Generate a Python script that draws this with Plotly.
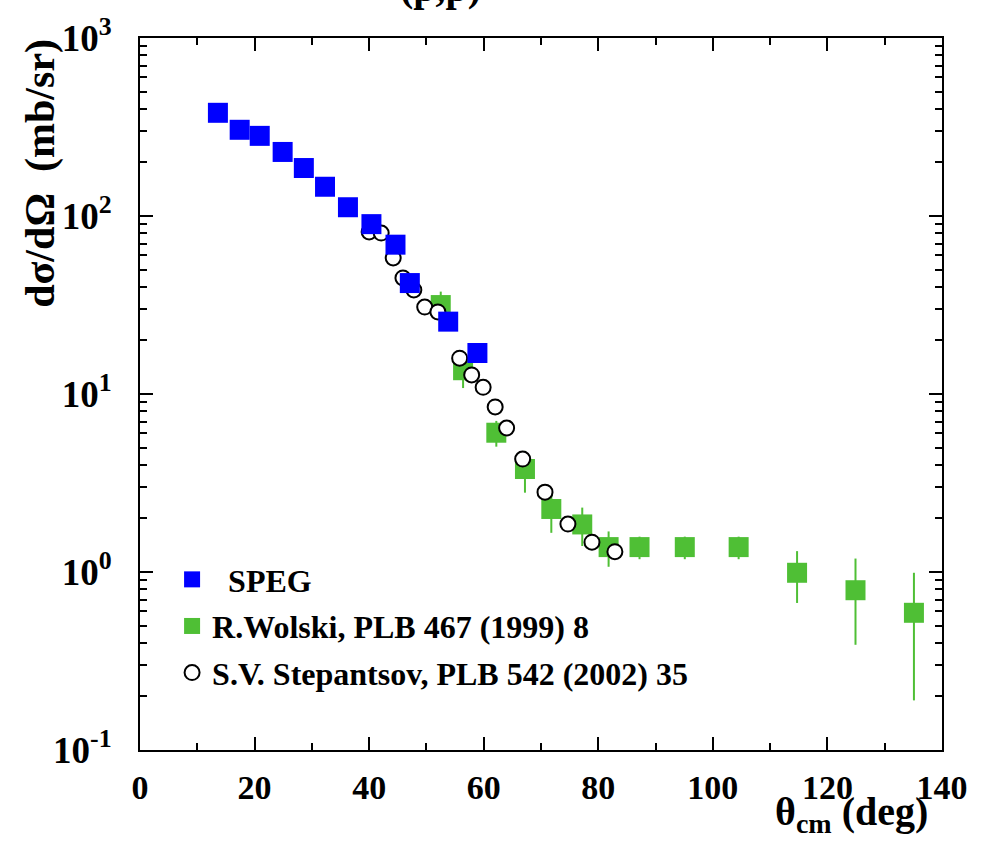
import plotly.graph_objects as go

# SPEG data (blue)
speg_x = [13.6, 17.4, 20.9, 24.9, 28.6, 32.3, 36.3, 40.4, 44.6, 47.1, 53.8, 58.9]
speg_y = [380, 305, 282, 229, 186, 146, 112, 90, 69, 42, 25.5, 17.0]

# R.Wolski, PLB 467 (1999) 8 (green)
wol_x = [52.5, 56.4, 62.2, 67.2, 71.8, 77.2, 81.8, 87.2, 95.1, 104.5, 114.7, 124.9, 135.1]
wol_y = [31.6, 13.6, 6.06, 3.79, 2.26, 1.85, 1.38, 1.38, 1.38, 1.38, 0.99, 0.79, 0.59]
wol_err = [6.0, 2.8, 1.0, 1.0, 0.6, 0.45, 0.31, 0.2, 0.2, 0.2, 0.32, 0.40, 0.40]

# S.V. Stepantsov, PLB 542 (2002) 35 (open circles)
ste_x = [40.0, 42.1, 44.2, 45.9, 47.8, 49.7, 52.0, 55.8, 57.9, 59.9, 62.0, 64.0, 66.8, 70.7, 74.7, 78.9, 82.9]
ste_y = [81.3, 80.2, 58.1, 44.9, 38.4, 30.8, 28.9, 15.9, 12.8, 10.9, 8.46, 6.44, 4.31, 2.81, 1.86, 1.47, 1.30]

ytick_vals = [0.1, 1, 10, 100, 1000]
ytick_text = ["10<sup>-1</sup>", "10<sup>0</sup>", "10<sup>1</sup>", "10<sup>2</sup>", "10<sup>3</sup>"]

FONT = "Liberation Serif"
GREEN = "#4fbf35"

fig = go.Figure()

fig.add_trace(go.Scatter(
    x=wol_x, y=wol_y, mode="markers", name="R.Wolski, PLB 467 (1999) 8",
    marker=dict(symbol="square", size=20, color=GREEN, line=dict(width=0)),
    error_y=dict(type="data", array=wol_err, color=GREEN, thickness=2, width=0),
    legendgroup="b", legendrank=2,
))
fig.add_trace(go.Scatter(
    x=ste_x, y=ste_y, mode="markers", name="S.V. Stepantsov, PLB 542 (2002) 35",
    marker=dict(symbol="circle", size=15, color="white", line=dict(width=2, color="black")),
    legendgroup="c", legendrank=3,
))
fig.add_trace(go.Scatter(
    x=speg_x, y=speg_y, mode="markers", name="  SPEG",
    marker=dict(symbol="square", size=20, color="#0000ff", line=dict(width=0)),
    legendgroup="a", legendrank=1,
))

axis_common = dict(
    showline=True, linecolor="black", linewidth=2, mirror="ticks",
    ticks="inside", ticklen=13, tickwidth=2, tickcolor="black",
    showgrid=False, zeroline=False,
)

fig.update_xaxes(
    range=[0, 140], tick0=0, dtick=20, ticklabelstandoff=6,
    tickfont=dict(family=FONT, size=34, color="black", weight="bold"),
    minor=dict(dtick=10, ticks="inside", ticklen=7, tickwidth=2, tickcolor="black"),
    **axis_common,
)
fig.update_yaxes(
    type="log", range=[-1, 3], tickmode="array", tickvals=ytick_vals, ticktext=ytick_text,
    ticklabelstandoff=19,
    tickfont=dict(family=FONT, size=37, color="black", weight="bold"),
    minor=dict(dtick="D1", ticks="inside", ticklen=7, tickwidth=2, tickcolor="black"),
    **axis_common,
)

fig.update_layout(
    width=985, height=841,
    margin=dict(l=140, r=43, t=38, b=91),
    paper_bgcolor="white", plot_bgcolor="white",
    showlegend=True,
    legend=dict(
        x=0.04, y=0.278, xanchor="left", yanchor="top",
        bgcolor="rgba(0,0,0,0)", traceorder="grouped", tracegroupgap=2,
        font=dict(family=FONT, size=32, color="black", weight="bold"),
        itemsizing="trace",
    ),
    annotations=[
        dict(text="dσ/dΩ  (mb/sr)", textangle=-90, xref="paper", yref="paper",
             x=-0.124, y=0.81, showarrow=False, xanchor="center", yanchor="middle",
             font=dict(family=FONT, size=42, color="black", weight="bold")),
        dict(text="θ<sub>cm</sub> (deg)", xref="paper", yref="paper",
             x=0.985, y=-0.09, showarrow=False, xanchor="right", yanchor="middle",
             font=dict(family=FONT, size=40, color="black", weight="bold")),
        dict(text="(p,p)", xref="paper", yref="paper",
             x=0.375, y=1.036, showarrow=False, xanchor="center", yanchor="bottom",
             font=dict(family=FONT, size=40, color="black", weight="bold")),
    ],
)

fig.write_html("out.html")
